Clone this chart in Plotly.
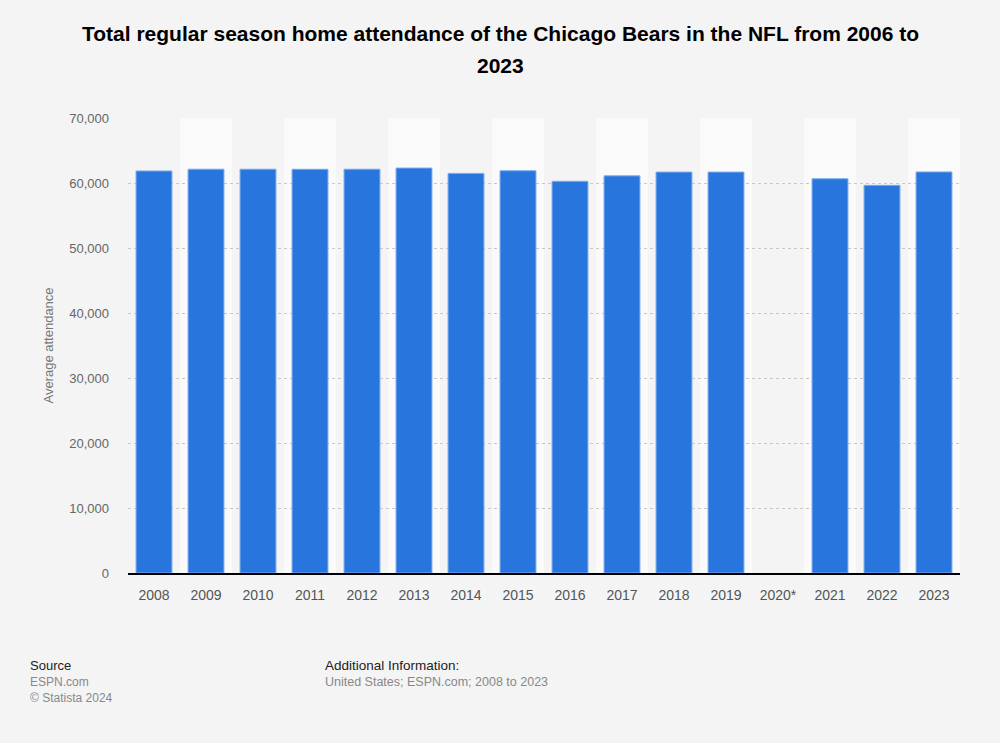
import plotly.graph_objects as go

years = ["2008", "2009", "2010", "2011", "2012", "2013", "2014", "2015",
         "2016", "2017", "2018", "2019", "2020*", "2021", "2022", "2023"]
attendance = [61850, 62120, 62120, 62110, 62120, 62300, 61480, 61880,
              60260, 61100, 61680, 61680, None, 60650, 59640, 61700]
y_ticks = [0, 10000, 20000, 30000, 40000, 50000, 60000, 70000]
y_tick_text = ["0", "10,000", "20,000", "30,000", "40,000", "50,000", "60,000", "70,000"]
title_lines = ["Total regular season home attendance of the Chicago Bears in the NFL from 2006 to", "2023"]

FONT = "Liberation Sans, Arial, sans-serif"
BG = "#f4f4f4"
W, H = 1000, 743
ML, MR, MT, MB = 128, 40, 118, 170

fig = go.Figure()
fig.add_trace(go.Bar(
    x=years, y=attendance,
    marker=dict(color="#2876dd", line=dict(color="#7aaae9", width=1)),
    hoverinfo="x+y",
))

shapes = []
for i in range(len(years)):
    if i % 2 == 1:
        shapes.append(dict(type="rect", xref="x", yref="paper",
                           x0=i - 0.5, x1=i + 0.5, y0=0, y1=1,
                           fillcolor="#fafafa", line=dict(width=0), layer="below"))

fig.update_layout(
    width=W, height=H,
    paper_bgcolor=BG, plot_bgcolor=BG,
    margin=dict(l=ML, r=MR, t=MT, b=MB),
    bargap=0.31,
    showlegend=False,
    shapes=shapes,
    font=dict(family=FONT),
)

fig.update_xaxes(
    type="category",
    showline=True, linecolor="#000000", linewidth=1.5,
    ticks="", tickfont=dict(size=14, color="#555555"),
    ticklabelstandoff=8,
    showgrid=False, range=[-0.5, len(years) - 0.5],
)
fig.update_yaxes(
    range=[0, 70000], tickvals=y_ticks, ticktext=y_tick_text,
    showgrid=True, gridcolor="#c8c8c8", griddash="dot", gridwidth=1,
    zeroline=False, showline=False,
    tickfont=dict(size=13, color="#666666"),
    ticklabelstandoff=18,
    title=dict(text="Average attendance", font=dict(size=13, color="#777777"), standoff=12),
)


def px_x(x):
    return (x - ML) / (W - ML - MR)


def px_y(y):
    return (H - MB - y) / (H - MT - MB)


for text, y in zip(title_lines, [33, 66]):
    fig.add_annotation(
        text="<b>" + text + "</b>", xref="paper", yref="paper",
        x=px_x(500), y=px_y(y), xanchor="center", yanchor="middle", showarrow=False,
        font=dict(family=FONT, size=21, color="#000000"),
    )

annotations = [
    dict(text="Source", x=28, y=665, color="#222222", size=13),
    dict(text="ESPN.com", x=28, y=682, color="#888888", size=12),
    dict(text="© Statista 2024", x=28, y=698, color="#888888", size=12),
    dict(text="Additional Information:", x=323, y=665, color="#222222", size=13.5),
    dict(text="United States; ESPN.com; 2008 to 2023", x=323, y=682, color="#888888", size=12.5),
]
for a in annotations:
    fig.add_annotation(
        text=a["text"], xref="paper", yref="paper",
        x=px_x(a["x"]), y=px_y(a["y"]),
        xanchor="left", yanchor="middle", showarrow=False,
        font=dict(family=FONT, size=a["size"], color=a["color"]),
    )

fig.write_html("out.html", config={"displayModeBar": False},
               post_script="document.body.style.margin='0';")
